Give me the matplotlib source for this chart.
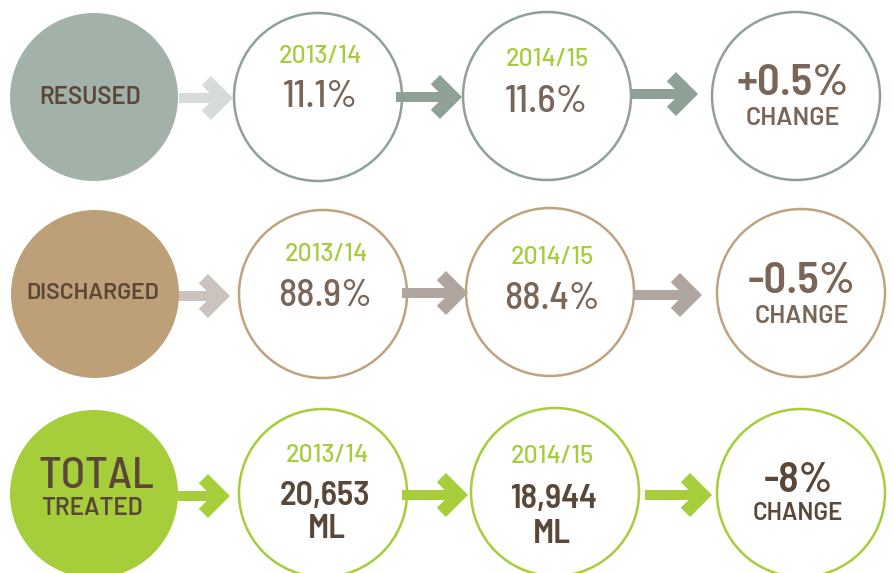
import matplotlib.pyplot as plt
from matplotlib.patches import Circle, Polygon

plt.rcParams['font.family'] = ['Barlow', 'Roboto', 'DejaVu Sans']
narrow = ['Barlow Semi Condensed', 'Barlow', 'Roboto Condensed', 'DejaVu Sans']

# data
categories = ["RESUSED", "DISCHARGED", "TOTAL"]
total_sub = "TREATED"
years = ["2013/14", "2014/15"]
share_1314 = [11.1, 88.9]
share_1415 = [11.6, 88.4]
total_1314 = 20653
total_1415 = 18944
unit = "ML"

# text for the circles
val_a = [f"{v}%" for v in share_1314] + [f"{total_1314:,}"]
val_b = [f"{v}%" for v in share_1415] + [f"{total_1415:,}"]
changes = [f"{b - a:+.1f}%" for a, b in zip(share_1314, share_1415)]
changes.append(f"{round((total_1415 - total_1314) / total_1314 * 100):+d}%")

# colours per row
fill_col = ["#a3b2a8", "#bda078", "#a6cd3a"]
edge_col = ["#8fa197", "#bea37e", "#a6cd3a"]
arrow_light = ["#d6ddd8", "#cbc3be", "#a6cd3a"]
arrow_dark = ["#8fa196", "#b0a69f", "#a6cd3a"]
val_col = ["#7a6658", "#7a6658", "#5b4737"]
dark = "#5b4737"
green = "#a4cc3b"

# layout (pixels, y down)
cx = [[94, 318, 547, 796], [95, 323, 550, 801], [94, 323, 555, 801]]
cy = [[97, 97, 96, 96], [294, 294, 292, 293], [494, 493, 492, 493]]
arrows = [[(179, 233, 98), (396, 462, 97), (632, 698, 94)],
          [(179, 230, 296), (402, 468, 293), (633, 702, 295)],
          [(178, 230, 496), (402, 468, 495), (645, 712, 495)]]


def px(v):
    return v * 0.72


def arrow(ax, x0, xt, y, color, h=5, a=22, t=13):
    s2 = 2 ** 0.5
    p2 = (xt - a, y - a)
    p3 = (p2[0] - t / s2, p2[1] + t / s2)
    s = (y - h) - p3[1]
    p4 = (p3[0] + s, y - h)
    pts = [(xt, y), p2, p3, p4, (x0, y - h), (x0, y + h),
           (p4[0], y + h), (p3[0], 2 * y - p3[1]), (p2[0], 2 * y - p2[1])]
    ax.add_patch(Polygon(pts, closed=True, color=color, lw=0, zorder=3))


fig = plt.figure(figsize=(8.93, 5.73), dpi=100)
ax = fig.add_axes([0, 0, 1, 1])
ax.set_xlim(0, 893)
ax.set_ylim(573, 0)
ax.axis('off')

for r in range(3):
    ax.add_patch(Circle((cx[r][0], cy[r][0]), 84, color=fill_col[r], lw=0, zorder=1))
    for k in range(1, 4):
        ax.add_patch(Circle((cx[r][k], cy[r][k]), 84, facecolor="white",
                            edgecolor=edge_col[r], lw=px(2.5), zorder=2))
    for k, (x0, xt, y) in enumerate(arrows[r]):
        arrow(ax, x0, xt, y, arrow_light[r] if k == 0 else arrow_dark[r])

kw = dict(ha='center', va='baseline', zorder=4)
med = 'medium'
sb = 'semibold'

# row 1
ax.text(90, 104, categories[0], fontsize=px(24), color=dark, weight=sb, **kw)
ax.text(320, 63, years[0], fontsize=px(25), color=green, weight=med, **kw)
ax.text(320, 107, val_a[0], fontsize=px(38), color=val_col[0], weight=med, family=narrow, **kw)
ax.text(547, 66, years[1], fontsize=px(25), color=green, weight=med, **kw)
ax.text(546, 112, val_b[0], fontsize=px(39), color=val_col[0], weight=med, family=narrow, **kw)
ax.text(793, 95, changes[0], fontsize=px(45), color=val_col[0], weight=sb, family=narrow, **kw)
ax.text(793, 125, "CHANGE", fontsize=px(25), color=val_col[0], weight=sb, **kw)

# row 2
ax.text(93, 299, categories[1], fontsize=px(23), color=dark, weight=sb, **kw)
ax.text(326, 261, years[0], fontsize=px(25), color=green, weight=med, **kw)
ax.text(325, 306, val_a[1], fontsize=px(38), color=val_col[1], weight=med, family=narrow, **kw)
ax.text(552, 264, years[1], fontsize=px(25), color=green, weight=med, **kw)
ax.text(552, 309, val_b[1], fontsize=px(38), color=val_col[1], weight=med, family=narrow, **kw)
ax.text(802, 293, changes[1], fontsize=px(45), color=val_col[1], weight=sb, family=narrow, **kw)
ax.text(802, 323, "CHANGE", fontsize=px(25), color=val_col[1], weight=sb, **kw)

# row 3
ax.text(96, 488, categories[2], fontsize=px(45), color=dark, weight=med, family=narrow, **kw)
ax.text(92, 515, total_sub, fontsize=px(24), color=dark, weight=sb, **kw)
ax.text(327, 462, years[0], fontsize=px(25), color=green, weight=med, **kw)
ax.text(325, 505, val_a[2], fontsize=px(34), color=val_col[2], weight=sb, family=narrow, **kw)
ax.text(327, 538, unit, fontsize=px(34), color=val_col[2], weight=sb, family=narrow, **kw)
ax.text(552, 463, years[1], fontsize=px(25), color=green, weight=med, **kw)
ax.text(553, 508, val_b[2], fontsize=px(34), color=val_col[2], weight=sb, family=narrow, **kw)
ax.text(552, 543, unit, fontsize=px(34), color=val_col[2], weight=sb, family=narrow, **kw)
ax.text(798, 492, changes[2], fontsize=px(42), color=val_col[2], weight=sb, family=narrow, **kw)
ax.text(798, 520, "CHANGE", fontsize=px(24), color=val_col[2], weight=sb, **kw)

fig.savefig("out.png", dpi=100)
